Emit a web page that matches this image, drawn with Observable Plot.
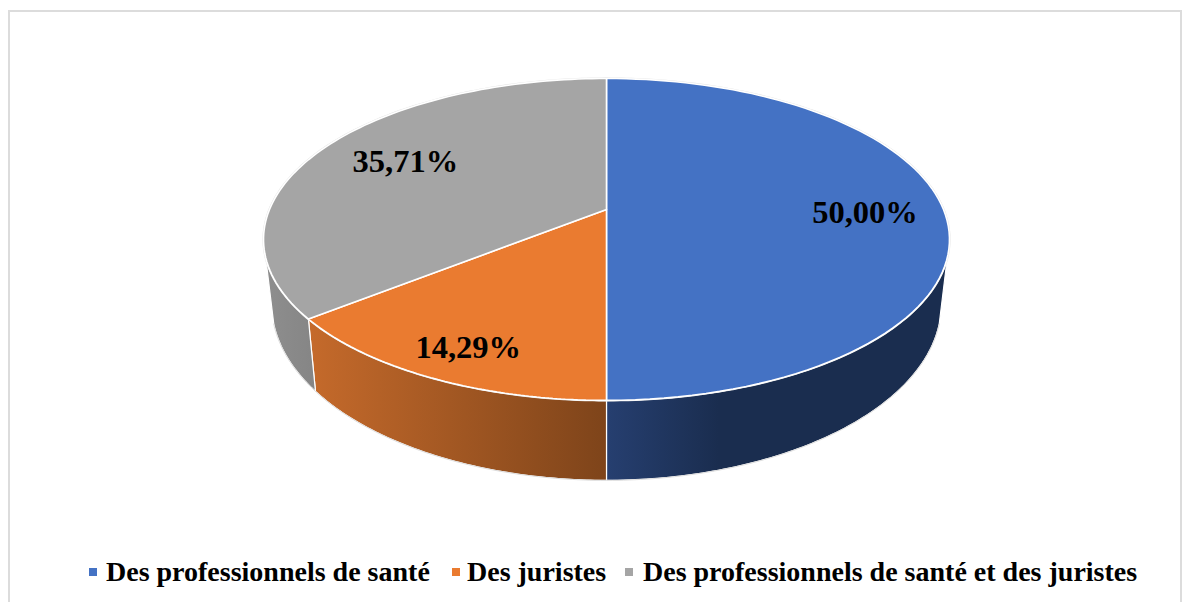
<!DOCTYPE html>
<html lang="fr">
<head>
<meta charset="utf-8">
<script src="https://cdn.jsdelivr.net/npm/d3@7"></script>
<script src="https://cdn.jsdelivr.net/npm/@observablehq/plot@0.6"></script>
<style>
  html, body { margin: 0; padding: 0; background: #fff; overflow: hidden; }
  #page { position: relative; width: 1191px; height: 602px; overflow: hidden; font-family: "Liberation Serif", serif; }
  #frame { position: absolute; left: 8px; top: 10px; width: 1170px; height: 600px; border: 2px solid #dcdcdc; box-sizing: content-box; }
  #chart { position: absolute; left: 0; top: 0; }
  #chart svg { display: block; background: transparent; }
  #legend { position: absolute; left: 0; top: 548px; width: 1191px; height: 50px; font-weight: bold; font-size: 28px; color: #000; line-height: 48px; white-space: nowrap; }
  #legend i { position: absolute; top: 20px; width: 8px; height: 8px; }
  #legend span { position: absolute; top: 0; }
</style>
</head>
<body>
<div id="page">
  <div id="frame"></div>
  <div id="chart"></div>
  <div id="legend"></div>
</div>
<script>
const categories = ["Des professionnels de santé", "Des juristes", "Des professionnels de santé et des juristes"];
const shares = [50.00, 14.29, 35.71];
const labels = ["50,00%", "14,29%", "35,71%"];
const colors = ["#4472c4", "#ea7b30", "#a5a5a5"];

const W = 1191, H = 548;
// Perspective of the disc: u across, v towards the viewer
const K = 0.186;
const top3d = {b: 337, a: 155.4, c: 0};
const bottom3d = {b: 329, a: 170, c: 62};
const project = (s, deg, r = 1) => {
  const t = deg * Math.PI / 180, u = r * Math.sin(t), v = -r * Math.cos(t), w = 1 - K * v;
  return {x: s.b * u / w, y: s.c + s.a * v / w};
};
const arc = (s, from, to, n = 90) => d3.range(n + 1).map(i => project(s, from + (to - from) * i / n));

let acc = 0;
const slices = shares.map((v, i) => {
  const start = acc * 3.6; acc += v;
  return {i, start, end: acc * 3.6, mid: (start + acc * 3.6) / 2};
});
const face = d => [project(top3d, 0, 0), ...arc(top3d, d.start, d.end), project(top3d, 0, 0)];

// The visible part of the side wall runs between these bearings
const wallFrom = 107, wallTo = 253;
const wall = d => {
  const a = Math.max(d.start, wallFrom), b = Math.min(d.end, wallTo);
  const pts = [...arc(top3d, a, b), ...arc(bottom3d, b, a)];
  return [...pts, pts[0]];
};

const gradients = [
  ["wall0", [[0, "#263f70"], [0.33, "#1a2d4f"], [1, "#1a2d4f"]]],
  ["wall1", [[0, "#c56a2b"], [1, "#7e441a"]]],
  ["wall2", [[0, "#8e8e8e"], [1, "#858585"]]]
];
const defs = () => {
  const d = d3.create("svg:defs");
  gradients.forEach(([id, stops]) => {
    const g = d.append("linearGradient").attr("id", id).attr("x1", 0).attr("x2", 1).attr("y1", 0).attr("y2", 0);
    stops.forEach(([o, c]) => g.append("stop").attr("offset", o).attr("stop-color", c));
  });
  return d.node();
};

const labelOffsets = [[-1, 3], [-9, 14], [19, 1]];

const plot = Plot.plot({
  width: W, height: H, margin: 0,
  x: {domain: [-606, 585], range: [0, W], axis: null},
  y: {domain: [-209, H - 209], range: [0, H], axis: null},
  marks: [
    defs,
    ...slices.filter(d => Math.min(d.end, wallTo) > Math.max(d.start, wallFrom)).map(d =>
      Plot.line(wall(d), {x: "x", y: "y", fill: `url(#wall${d.i})`, stroke: "#fff", strokeWidth: 1.2, curve: "linear"})),
    Plot.line(arc(bottom3d, wallFrom, wallTo, 180), {x: "x", y: "y", stroke: "#dcdcdc", strokeWidth: 1, curve: "linear"}),
    Plot.line(arc(top3d, 0, 360, 360), {x: "x", y: "y", stroke: "#e2e2e2", strokeWidth: 2.2, curve: "linear"}),
    ...slices.map(d =>
      Plot.line(face(d), {x: "x", y: "y", fill: colors[d.i], stroke: "#fff", strokeWidth: 1.6, strokeLinejoin: "miter", curve: "linear"})),
    ...slices.map(d =>
      Plot.text([{...project(top3d, d.mid, 0.77), t: labels[d.i]}], {
        x: "x", y: "y", text: "t", dx: labelOffsets[d.i][0], dy: labelOffsets[d.i][1],
        fontFamily: "Liberation Serif", fontWeight: "bold", fontSize: 32.5, fill: "#000"
      }))
  ]
});
document.getElementById("chart").append(plot);

const legendSpots = [[89, 106], [452, 467], [625, 643]];
const legend = document.getElementById("legend");
categories.forEach((c, i) => {
  const sw = document.createElement("i");
  sw.style.left = legendSpots[i][0] + "px";
  sw.style.background = colors[i];
  const sp = document.createElement("span");
  sp.style.left = legendSpots[i][1] + "px";
  sp.textContent = c;
  legend.append(sw, sp);
});
</script>
</body>
</html>
